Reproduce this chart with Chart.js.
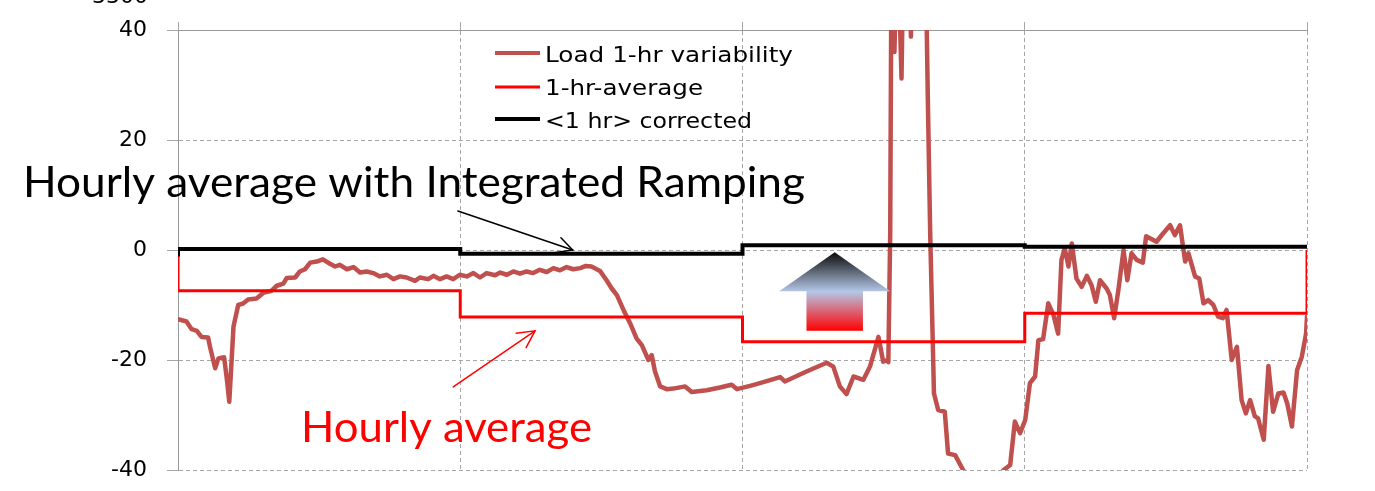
<!DOCTYPE html>
<html>
<head>
<meta charset="utf-8">
<title>Load 1-hr variability</title>
<script src="https://cdn.jsdelivr.net/npm/chart.js@4.4.1/dist/chart.umd.min.js"></script>
<style>
  html, body { margin: 0; padding: 0; background: #fff; }
  #marco { position: relative; width: 1375px; height: 491px; }
</style>
</head>
<body>
<div id="marco"><canvas id="grafico" width="1375" height="491"></canvas></div>
<script>
// minutos dentro de las 4 horas y valores
const loadMinutes = [
  0, 1.8, 2.9, 4.0, 5.0, 6.4, 6.8, 7.9, 8.6, 9.8,
  10.4, 10.9, 11.4, 11.8, 12.8, 13.9, 14.9, 16.7, 18.1, 19.9,
  21.0, 22.4, 23.1, 24.9, 25.9, 27.0, 28.1, 29.5, 30.8, 32.3,
  33.4, 34.4, 35.9, 37.3, 38.7, 40.1, 41.5, 42.9, 44.4, 45.8,
  47.2, 48.6, 50.4, 51.4, 53.2, 54.3, 55.7, 57.1, 58.5, 59.9,
  61.4, 62.8, 64.2, 65.6, 67.4, 68.5, 69.9, 71.3, 72.7, 74.1,
  75.5, 76.9, 78.4, 79.8, 81.2, 82.6, 84.0, 85.5, 86.7, 87.9,
  89.7, 91.1, 92.2, 93.3, 94.7, 96.1, 97.5, 98.6, 100.0, 100.7,
  101.4, 102.5, 103.9, 105.3, 107.8, 109.2, 112.4, 115.2, 117.7, 118.8,
  121.6, 123.7, 128.0, 129.0, 133.6, 137.9, 139.3, 140.7, 142.1, 143.6,
  145.7, 147.1, 148.9, 149.9, 150.8, 151.0, 151.4, 151.7, 152.3, 152.9,
  153.8, 154.3, 155.5, 155.8, 156.1, 158.8, 159.4, 159.9, 160.4, 160.7,
  161.6, 163.0, 163.7, 165.2, 166.9, 169.0, 172.0, 174.0, 175.5, 176.9,
  177.9, 179.0, 180.1, 181.1, 182.2, 182.9, 183.9, 185.0, 186.1, 187.1,
  187.8, 188.5, 189.3, 190.0, 191.0, 192.1, 193.2, 194.2, 195.1, 196.0,
  197.4, 198.1, 199.0, 199.9, 201.0, 201.8, 202.7, 203.8, 205.1, 205.8,
  208.0, 209.4, 210.9, 211.9, 213.0, 214.1, 214.8, 216.2, 217.1, 218.0,
  219.0, 220.1, 221.1, 222.1, 222.9, 224.0, 225.1, 226.1, 227.0, 227.9,
  228.9, 229.6, 230.8, 231.8, 232.8, 233.9, 235.0, 235.8, 236.8, 237.9,
  238.9, 239.8, 240
];
const loadValues = [
  -12.6, -13.0, -14.4, -14.7, -15.8, -15.9, -17.6, -21.5, -19.7, -19.5,
  -23.6, -27.6, -20.0, -13.9, -10.0, -9.7, -9.0, -8.8, -7.8, -7.4,
  -6.5, -6.1, -5.1, -5.0, -3.9, -3.5, -2.3, -2.1, -1.7, -2.5,
  -3.0, -2.7, -3.5, -3.1, -4.1, -3.9, -4.2, -4.8, -4.5, -5.3,
  -4.8, -5.0, -5.6, -5.0, -5.3, -4.7, -5.3, -4.8, -5.3, -4.5,
  -4.8, -4.2, -5.0, -4.2, -4.6, -4.1, -4.5, -3.9, -4.3, -3.9,
  -4.2, -3.6, -4.0, -3.3, -3.7, -3.1, -3.5, -3.3, -2.9, -3.0,
  -3.8, -5.5, -7.0, -8.2, -10.9, -13.3, -16.1, -17.3, -20.0, -19.1,
  -22.1, -24.8, -25.3, -25.2, -24.8, -25.8, -25.5, -25.0, -24.5, -25.3,
  -24.7, -24.2, -23.1, -23.9, -22.1, -20.5, -21.2, -24.8, -26.2, -23.0,
  -23.6, -21.2, -15.8, -20.3, -20.0, -20.4, 3.0, 60, 36, 60,
  31.2, 60, 60, 38.8, 60, 60, 27.3, 3.0, -15.1, -26.1,
  -29.1, -29.4, -37.0, -37.3, -40.0, -42.5, -43.5, -41.5, -40.0, -39.1,
  -31.2, -33.3, -30.9, -24.2, -23.0, -16.4, -16.2, -9.7, -11.8, -15.2,
  -1.8, 0.3, -3.0, 1.2, -5.2, -6.7, -4.7, -6.4, -9.4, -5.5,
  -7.0, -8.2, -12.4, -7.3, 0.0, -5.5, -0.6, -1.8, -2.3, 2.5,
  1.5, 3.0, 4.5, 2.7, 4.5, -2.1, -0.6, -4.8, -5.2, -9.7,
  -9.1, -10.0, -12.1, -12.4, -10.9, -20.0, -17.6, -27.3, -29.7, -27.3,
  -30.2, -30.6, -34.5, -21.1, -29.4, -26.1, -25.9, -27.9, -32.1, -21.8,
  -19.4, -15.2, -12.1
];

// promedio horario (escalones)
const avgMinutes = [0, 0, 60, 60, 120, 120, 180, 180, 240, 240];
const avgValues = [0, -7.4, -7.4, -12.2, -12.2, -16.7, -16.7, -11.5, -11.5, 0];

// promedio corregido con rampa integrada
const corrMinutes = [0, 0, 60, 60, 120, 120, 180, 180, 240];
const corrValues = [-1.2, 0.2, 0.2, -0.7, -0.7, 0.85, 0.85, 0.6, 0.6];

const hourTicks = [0, 60, 120, 180, 240];
const yTicks = [-40, -20, 0, 20, 40];
const seriesNames = ['Load 1-hr variability', '1-hr-average', '<1 hr> corrected'];
const seriesColors = ['#c0504d', '#ff0000', '#000000'];

function aPuntos(xs, ys) {
    const n = Math.min(xs.length, ys.length);
    const pts = [];
    for (let i = 0; i < n; i++) pts.push({ x: xs[i], y: ys[i] });
    return pts;
}

function textoAjustado(c, texto, x, base, ancho, fuente, color) {
    c.save();
    c.font = fuente;
    const w = c.measureText(texto).width;
    c.translate(x, base);
    c.scale(ancho / w, 1);
    c.fillStyle = color;
    c.textAlign = 'left';
    c.textBaseline = 'alphabetic';
    c.fillText(texto, 0, 0);
    c.restore();
}

function flecha(c, x1, y1, x2, y2, color, grosor, punta) {
    c.save();
    c.strokeStyle = color;
    c.lineWidth = grosor;
    c.lineCap = 'round';
    c.beginPath();
    c.moveTo(x1, y1);
    c.lineTo(x2, y2);
    c.stroke();
    const a = Math.atan2(y2 - y1, x2 - x1);
    c.beginPath();
    c.moveTo(x2 - punta * Math.cos(a - 0.48), y2 - punta * Math.sin(a - 0.48));
    c.lineTo(x2, y2);
    c.lineTo(x2 - punta * Math.cos(a + 0.48), y2 - punta * Math.sin(a + 0.48));
    c.stroke();
    c.restore();
}

// anotaciones en unidades de datos (minutos, valor)
const flechaRampa = { x: 139.6, punta: -0.4, cuello: -7.5, base: -14.7, cabeza: 11.8, cuerpo: 6.0 };
const flechaNegra = [59.5, 7.1, 83.9, 0.0];
const flechaRoja = [58.5, -24.9, 75.9, -14.7];

const anotaciones = {
    id: 'anotaciones',
    afterDatasetsDraw(chart) {
        const c = chart.ctx;
        const sx = chart.scales.x, sy = chart.scales.y;
        const px = v => sx.getPixelForValue(v);
        const py = v => sy.getPixelForValue(v);

        // flecha con degradado
        const f = flechaRampa;
        const g = c.createLinearGradient(0, py(f.punta), 0, py(f.base));
        g.addColorStop(0, '#0a0a0a');
        g.addColorStop(0.5, '#b4c7e7');
        g.addColorStop(1, '#ff0000');
        c.save();
        c.fillStyle = g;
        c.beginPath();
        c.moveTo(px(f.x), py(f.punta));
        c.lineTo(px(f.x + f.cabeza), py(f.cuello));
        c.lineTo(px(f.x + f.cuerpo), py(f.cuello));
        c.lineTo(px(f.x + f.cuerpo), py(f.base));
        c.lineTo(px(f.x - f.cuerpo), py(f.base));
        c.lineTo(px(f.x - f.cuerpo), py(f.cuello));
        c.lineTo(px(f.x - f.cabeza), py(f.cuello));
        c.closePath();
        c.fill();
        c.restore();

        flecha(c, px(flechaNegra[0]), py(flechaNegra[1]), px(flechaNegra[2]), py(flechaNegra[3]), '#000', 1.5, 17);
        flecha(c, px(flechaRoja[0]), py(flechaRoja[1]), px(flechaRoja[2]), py(flechaRoja[3]), '#ff0000', 1.5, 19);

        // textos
        textoAjustado(c, 'Hourly average with Integrated Ramping', 23, 197, 782, '42px Lato', '#000');
        textoAjustado(c, 'Hourly average', 301, 442, 291, '42px Lato', '#ff0000');

        // leyenda
        const filas = [53, 87, 119];
        const bases = [61.5, 95, 128];
        const anchos = [248, 158, 207];
        const grosores = [4, 3, 4];
        c.save();
        for (let i = 0; i < seriesNames.length; i++) {
            c.strokeStyle = seriesColors[i];
            c.lineWidth = grosores[i];
            c.beginPath();
            c.moveTo(495, filas[i]);
            c.lineTo(540, filas[i]);
            c.stroke();
            textoAjustado(c, seriesNames[i], 545, bases[i], anchos[i], '22px "DejaVu Sans"', '#000');
        }
        c.restore();

        // etiqueta cortada arriba
        c.save();
        c.font = '22px "DejaVu Sans"';
        c.fillStyle = '#000';
        c.textAlign = 'right';
        c.textBaseline = 'alphabetic';
        c.fillText('3300', 148, 3);
        c.restore();
    }
};

const gris = '#a6a6a6';
const ctx = document.getElementById('grafico').getContext('2d');
window.miGrafico = new Chart(ctx, {
    type: 'line',
    data: {
        datasets: [{
            label: seriesNames[2],
            data: aPuntos(corrMinutes, corrValues),
            borderColor: seriesColors[2],
            borderWidth: 4,
            pointRadius: 0,
            tension: 0,
            clip: 0
        }, {
            label: seriesNames[1],
            data: aPuntos(avgMinutes, avgValues),
            borderColor: seriesColors[1],
            borderWidth: 3,
            pointRadius: 0,
            tension: 0,
            clip: 0
        }, {
            label: seriesNames[0],
            data: aPuntos(loadMinutes, loadValues),
            borderColor: seriesColors[0],
            borderWidth: 4.5,
            borderJoinStyle: 'round',
            borderCapStyle: 'round',
            pointRadius: 0,
            tension: 0,
            clip: 0
        }]
    },
    options: {
        responsive: false,
        animation: false,
        devicePixelRatio: 1,
        layout: { padding: { left: 0, top: 0, right: 68, bottom: 21 } },
        plugins: {
            legend: { display: false },
            tooltip: { enabled: false }
        },
        scales: {
            x: {
                type: 'linear',
                position: 'top',
                min: hourTicks[0],
                max: hourTicks[hourTicks.length - 1],
                afterBuildTicks: s => { s.ticks = hourTicks.map(v => ({ value: v })); },
                ticks: { display: false },
                grid: { color: gris, lineWidth: 1, tickLength: 8, tickColor: gris },
                border: { color: '#9a9a9a', width: 1, dash: [4, 3] },
                afterFit: s => { s.height = 30; s.paddingLeft = 0; s.paddingRight = 0; }
            },
            y: {
                min: yTicks[0],
                max: yTicks[yTicks.length - 1],
                afterBuildTicks: s => { s.ticks = yTicks.map(v => ({ value: v })); },
                ticks: {
                    padding: 20,
                    color: '#000',
                    font: { family: '"DejaVu Sans"', size: 22 }
                },
                grid: { color: gris, lineWidth: 1, tickLength: 11, tickColor: gris },
                border: { color: '#9a9a9a', width: 1, dash: [4, 3] },
                afterFit: s => { s.width = 178; s.paddingTop = 0; s.paddingBottom = 0; }
            }
        }
    },
    plugins: [anotaciones]
});
</script>
</body>
</html>
